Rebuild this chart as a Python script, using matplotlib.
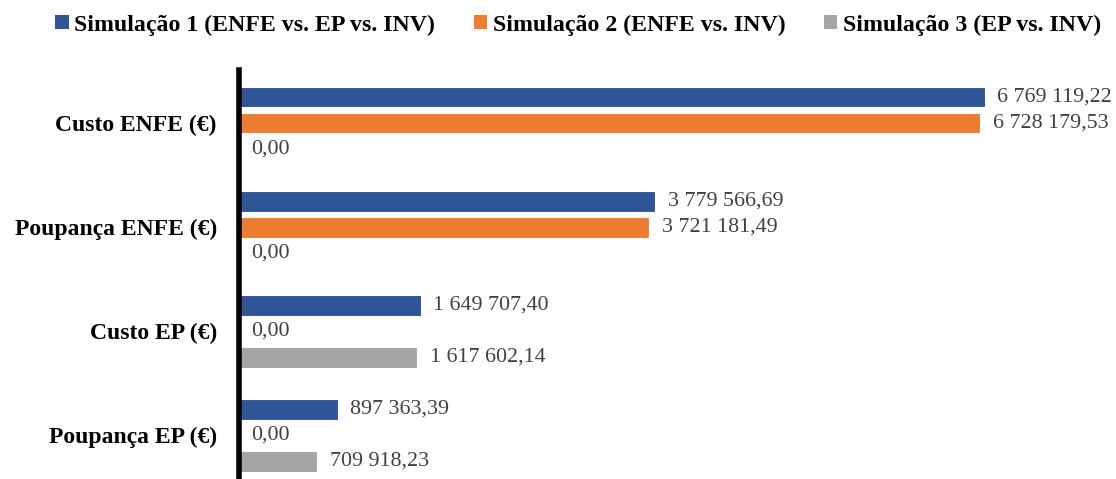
import numpy as np
import matplotlib
matplotlib.use("Agg")
import matplotlib.pyplot as plt
from matplotlib.patches import Patch

# dados
categorias = ['Custo ENFE (€)', 'Poupança ENFE (€)', 'Custo EP (€)', 'Poupança EP (€)']
series = ['Simulação 1 (ENFE vs. EP vs. INV)',
          'Simulação 2 (ENFE vs. INV)',
          'Simulação 3 (EP vs. INV)']
sim1 = [6769119.22, 3779566.69, 1649707.40, 897363.39]
sim2 = [6728179.53, 3721181.49, 0.00, 0.00]
sim3 = [0.00, 0.00, 1617602.14, 709918.23]
cores = ['#2F5597', '#ED7D31', '#A5A5A5']

plt.rcParams['font.family'] = ['Liberation Serif', 'DejaVu Serif']

def fmt(v):
    s = f"{v:,.2f}"
    return s.replace(",", "X").replace(".", ",").replace("X", " ")

fig = plt.figure(figsize=(11.16, 4.79), dpi=100)
ax = fig.add_axes([0.2142, 0.0, 0.7858, 0.8539])

y = np.arange(len(categorias))
offs = [-0.25, 0.0, 0.25]
for vals, off, cor in zip([sim1, sim2, sim3], offs, cores):
    bars = ax.barh(y + off, vals, height=0.2, color=cor, edgecolor='white', linewidth=0.8)
    for b, v in zip(bars, vals):
        ax.annotate(fmt(v), (b.get_width(), b.get_y() + b.get_height() / 2),
                    xytext=(9, 0), textcoords='offset points', va='center', ha='left',
                    fontsize=15.8, color='#404040')

ax.set_xlim(0, 7.96e6)
ax.set_ylim(3.42, -0.51)
ax.set_yticks(y)
ax.set_yticklabels(categorias, fontsize=17, fontweight='bold')
ax.tick_params(axis='y', length=0, pad=16)
ax.set_xticks([])
for s in ['top', 'right', 'bottom']:
    ax.spines[s].set_visible(False)
ax.spines['left'].set_linewidth(4)
ax.spines['left'].set_color('black')

handles = [Patch(facecolor=c) for c in cores]
fig.legend(handles, series, loc='center', bbox_to_anchor=(0.518, 0.948), ncol=3, frameon=False,
           prop={'weight': 'bold', 'size': 17.2}, handlelength=0.55, handleheight=0.55,
           handletextpad=0.25, columnspacing=1.6)

fig.savefig('out.png', dpi=100)
